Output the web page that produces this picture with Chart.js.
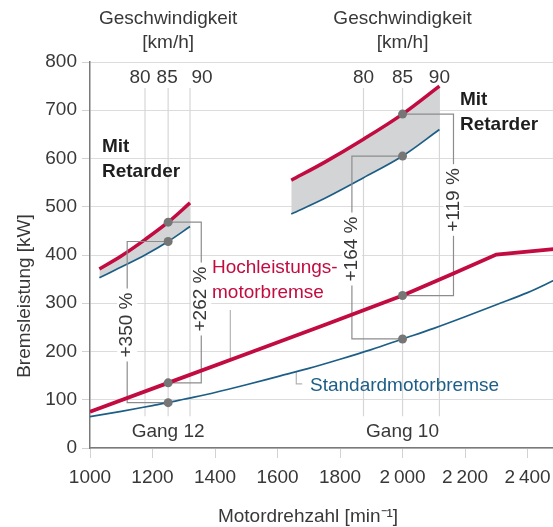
<!DOCTYPE html>
<html>
<head>
<meta charset="utf-8">
<script src="https://cdn.jsdelivr.net/npm/chart.js@4.4.1/dist/chart.umd.min.js"></script>
<style>
  html, body { margin: 0; padding: 0; background: #fff; overflow: hidden; }
  /* 5px wider than the window: chart.js keeps a 5px gap on the right */
  #wrap { width: 558px; height: 527px; position: relative; }
</style>
</head>
<body>
<div id="wrap"><canvas id="chart"></canvas></div>
<script>
// x ticks (Motordrehzahl) and their labels
const X_TICKS = [1000, 1200, 1400, 1600, 1800, 2000, 2200, 2400]
const X_TICK_LABELS = ['1000', '1200', '1400', '1600', '1800', '2\u2009000', '2\u2009200', '2\u2009400']

// Standardmotorbremse
const STD_RPM = [1000, 1100, 1200, 1250, 1300, 1400, 1500, 1600, 1700, 1800, 1900, 2000, 2100, 2200, 2300, 2400, 2483]
const STD_KW = [65, 76, 88, 94, 101, 115, 131, 148, 165, 184, 204, 226, 248, 272, 297, 322, 347]

// Hochleistungsmotorbremse
const HL_RPM = [1000, 1250, 1500, 1750, 2000, 2150, 2300, 2483]
const HL_KW = [75, 135, 195, 255, 316, 358, 401, 412]

// Mit Retarder, Gang 12
const RET12_RPM = [1030, 1100, 1176, 1250, 1320]
const RET12_STD_KW = [353, 375, 400, 428, 459]
const RET12_HL_KW = [371, 398, 432, 468, 508]

// Mit Retarder, Gang 10
const RET10_RPM = [1644, 1750, 1875, 2000, 2118]
const RET10_STD_KW = [485, 517, 560, 605, 660]
const RET10_HL_KW = [555, 592, 640, 692, 750]

// Geschwindigkeit 80 / 85 / 90 km/h
const SPEEDS = ['80', '85', '90']
const GANG12_SPEED_RPM = [1176, 1250, 1320]
const GANG10_SPEED_RPM = [1875, 2000, 2118]

// percent gains, measured at 85 km/h
const GAIN_LABELS = ['+350 %', '+262 %', '+164 %', '+119 %']
const GAIN_BRACKET_RPM = [1119, 1356, 1838, 2163]

const RED = '#c20b40'
const BLUE = '#1d5e86'
const TEXT = '#383838'
const FONT = '"Liberation Sans", Arial, sans-serif'

const pts = (xs, ys) => xs.map((x, i) => ({ x: x, y: ys[i] }))
const at = (xs, ys, x) => ys[xs.indexOf(x)]

function curve(xs, ys, color, width, extra) {
    return Object.assign({
        data: pts(xs, ys),
        borderColor: color,
        borderWidth: width,
        pointRadius: 0,
        fill: false,
        cubicInterpolationMode: 'monotone'
    }, extra || {})
}

function grayLine(points, color, order) {
    return {
        data: points,
        borderColor: color,
        borderWidth: 1.2,
        pointRadius: 0,
        fill: false,
        tension: 0,
        order: order
    }
}

const datasets = []

// speed lines
GANG12_SPEED_RPM.concat(GANG10_SPEED_RPM).forEach(x => {
    datasets.push(grayLine([{ x: x, y: 66 }, { x: x, y: 746 }], '#d6d6d6', 20))
})

// retarder bands (blue first, red fills to it)
datasets.push(curve(RET12_RPM, RET12_STD_KW, BLUE, 1.7, { order: 6 }))
datasets.push(curve(RET12_RPM, RET12_HL_KW, RED, 3.5, { order: 6, fill: '-1', backgroundColor: '#d3d4d6' }))
datasets.push(curve(RET10_RPM, RET10_STD_KW, BLUE, 1.7, { order: 6 }))
datasets.push(curve(RET10_RPM, RET10_HL_KW, RED, 3.5, { order: 6, fill: '-1', backgroundColor: '#d3d4d6' }))

// brackets between marker pairs
const s12 = at(STD_RPM, STD_KW, 1250), h12 = at(HL_RPM, HL_KW, 1250)
const rs12 = at(RET12_RPM, RET12_STD_KW, 1250), rh12 = at(RET12_RPM, RET12_HL_KW, 1250)
const s10 = at(STD_RPM, STD_KW, 2000), h10 = at(HL_RPM, HL_KW, 2000)
const rs10 = at(RET10_RPM, RET10_STD_KW, 2000), rh10 = at(RET10_RPM, RET10_HL_KW, 2000)
const brackets = [
    [1250, s12, rs12],
    [1250, h12, rh12],
    [2000, s10, rs10],
    [2000, h10, rh10]
]
brackets.forEach((b, i) => {
    const bx = GAIN_BRACKET_RPM[i]
    datasets.push(grayLine([{ x: b[0], y: b[1] }, { x: bx, y: b[1] }, { x: bx, y: b[2] }, { x: b[0], y: b[2] }], '#8c8c8c', 4))
})

// label callouts
datasets.push(grayLine([{ x: 1449, y: 182 }, { x: 1449, y: 286 }], '#b4b4b4', 4))
datasets.push(grayLine([{ x: 1660, y: 158 }, { x: 1660, y: 133 }, { x: 1679, y: 133 }], '#b4b4b4', 4))

// main curves
datasets.push(curve(STD_RPM, STD_KW, BLUE, 1.7, { order: 3 }))
datasets.push(curve(HL_RPM, HL_KW, RED, 3.8, { order: 2, cubicInterpolationMode: 'default', tension: 0 }))

// markers at 85 km/h
datasets.push({
    data: [
        { x: 1250, y: rh12 }, { x: 1250, y: rs12 }, { x: 1250, y: h12 }, { x: 1250, y: s12 },
        { x: 2000, y: rh10 }, { x: 2000, y: rs10 }, { x: 2000, y: h10 }, { x: 2000, y: s10 }
    ],
    showLine: false,
    pointRadius: 4.5,
    pointBackgroundColor: '#767676',
    pointBorderWidth: 0,
    order: 0
})

function drawText(ctx, text, x, y, opts) {
    opts = opts || {}
    ctx.save()
    ctx.font = (opts.bold ? 'bold ' : '') + '19px ' + FONT
    ctx.fillStyle = opts.color || TEXT
    ctx.textAlign = opts.align || 'center'
    ctx.textBaseline = 'middle'
    if (opts.rotate) {
        ctx.translate(x, y)
        ctx.rotate(-Math.PI / 2)
        if (opts.knockout) {
            const w = ctx.measureText(text).width
            ctx.fillStyle = '#fff'
            ctx.fillRect(-w / 2 - 4, -10, w + 8, 20)
            ctx.fillStyle = opts.color || TEXT
        }
        ctx.fillText(text, 0, 0)
    } else {
        ctx.fillText(text, x, y)
    }
    ctx.restore()
}

const annotations = {
    id: 'annotations',
    afterDatasetsDraw(chart) {
        const ctx = chart.ctx
        const xs = chart.scales.x
        const gainY = [325, 299, 249, 200]
        GAIN_LABELS.forEach((t, i) => {
            drawText(ctx, t, xs.getPixelForValue(GAIN_BRACKET_RPM[i]), gainY[i], { rotate: true, knockout: true })
        })
    },
    afterDraw(chart) {
        const ctx = chart.ctx
        const xs = chart.scales.x

        const c12 = xs.getPixelForValue(1250)
        const c10 = xs.getPixelForValue(2000)
        drawText(ctx, 'Geschwindigkeit', c12, 19)
        drawText(ctx, '[km/h]', c12, 43)
        drawText(ctx, 'Geschwindigkeit', c10, 19)
        drawText(ctx, '[km/h]', c10, 43)

        const shift12 = [-5, -1, 12]
        SPEEDS.forEach((s, i) => {
            drawText(ctx, s, xs.getPixelForValue(GANG12_SPEED_RPM[i]) + shift12[i], 78)
            drawText(ctx, s, xs.getPixelForValue(GANG10_SPEED_RPM[i]), 78)
        })

        drawText(ctx, 'Mit', 102, 147, { bold: true, align: 'left', color: '#1e1e1e' })
        drawText(ctx, 'Retarder', 102, 172, { bold: true, align: 'left', color: '#1e1e1e' })
        drawText(ctx, 'Mit', 460, 100, { bold: true, align: 'left', color: '#1e1e1e' })
        drawText(ctx, 'Retarder', 460, 125, { bold: true, align: 'left', color: '#1e1e1e' })

        drawText(ctx, 'Hochleistungs-', 212, 268, { align: 'left', color: RED })
        drawText(ctx, 'motorbremse', 212, 293, { align: 'left', color: RED })
        drawText(ctx, 'Standardmotorbremse', 310, 386, { align: 'left', color: BLUE })

        drawText(ctx, 'Gang 12', c12, 432)
        drawText(ctx, 'Gang 10', c10, 432)

        drawText(ctx, 'Bremsleistung [kW]', 25, 296, { rotate: true })
        drawText(ctx, 'Motordrehzahl [min\u207B\u00B9]', 308, 517)
    }
}

new Chart(document.getElementById('chart'), {
    type: 'line',
    data: { datasets: datasets },
    plugins: [annotations],
    options: {
        responsive: true,
        maintainAspectRatio: false,
        animation: false,
        events: [],
        layout: { padding: { top: 62, left: 0, right: 0, bottom: 0 } },
        plugins: {
            legend: { display: false },
            tooltip: { enabled: false },
            title: { display: false }
        },
        scales: {
            x: {
                type: 'linear',
                min: 1000,
                max: 2483,
                afterFit: s => { s.height = 79; s.paddingRight = 0; s.paddingLeft = 0 },
                afterBuildTicks: s => { s.ticks = X_TICKS.map(v => ({ value: v })) },
                grid: { drawOnChartArea: false, drawTicks: true, tickLength: 10, tickColor: '#d2d2d2' },
                border: { color: '#7a7a7a', width: 1.5 },
                ticks: {
                    padding: 8,
                    color: TEXT,
                    font: { family: FONT, size: 19 },
                    maxRotation: 0,
                    autoSkip: false,
                    callback: (v, i) => X_TICK_LABELS[i]
                }
            },
            y: {
                min: 0,
                max: 800,
                afterFit: s => { s.width = 90 },
                grid: { color: '#dcdcdc', lineWidth: 1, drawTicks: true, tickLength: 8, tickColor: '#d2d2d2' },
                border: { color: '#7a7a7a', width: 1.5 },
                ticks: {
                    stepSize: 100,
                    padding: 5,
                    color: TEXT,
                    font: { family: FONT, size: 19 }
                }
            }
        }
    }
})
</script>
</body>
</html>
